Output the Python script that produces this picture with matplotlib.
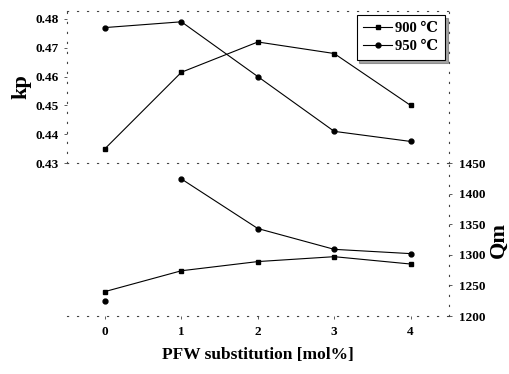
import numpy as np
import matplotlib.pyplot as plt

x = [0, 1, 2, 3, 4]
xticklabels = ["0", "1", "2", "3", "4"]

kp_900 = [0.435, 0.4615, 0.472, 0.468, 0.450]
kp_950 = [0.477, 0.479, 0.460, 0.441, 0.4375]
qm_900 = [1240, 1274, 1289, 1297, 1285]
qm_950 = [1225, 1424, 1343, 1309, 1302]

kp_ticks = [0.43, 0.44, 0.45, 0.46, 0.47, 0.48]
qm_ticks = [1200, 1250, 1300, 1350, 1400, 1450]

serif = ["Liberation Serif", "DejaVu Serif", "DejaVu Sans"]
plt.rcParams["font.family"] = serif
plt.rcParams["font.weight"] = "bold"

fig = plt.figure(figsize=(5.1, 3.74), dpi=100)
ax1 = fig.add_axes([0.131, 0.564, 0.749, 0.407])
ax2 = fig.add_axes([0.131, 0.155, 0.749, 0.409])
ax2.patch.set_alpha(0)

frame = (0, (1, 8))

# upper panel: kp
ax1.plot(x, kp_900, "-", color="black", lw=0.8, marker="s", ms=3.5)
ax1.plot(x, kp_950, "-", color="black", lw=0.8, marker="o", ms=3.5)
ax1.set_xlim(-0.5, 4.5)
ax1.set_ylim(0.43, 0.4828)
ax1.set_yticks(kp_ticks)
ax1.set_yticklabels([f"{v:.2f}" for v in kp_ticks], fontsize=9.5, fontweight="bold")
ax1.set_xticks([])
ax1.set_ylabel("kp", fontsize=16, fontweight="bold", labelpad=3)
for s in ax1.spines.values():
    s.set_linestyle(frame)
    s.set_linewidth(0.8)
    s.set_color("#444444")
ax1.tick_params(axis="y", length=2, width=0.6, pad=4, color="#444444")

leg = ax1.legend(["900 \u2103", "950 \u2103"], loc="upper right",
                 bbox_to_anchor=(0.997, 0.99), borderaxespad=0.2,
                 fancybox=False, shadow=True,
                 edgecolor="black", fontsize=10.5, handlelength=2.0,
                 borderpad=0.45, labelspacing=0.35, handletextpad=0.2)
leg.get_frame().set_linewidth(0.8)
for t in leg.get_texts():
    t.set_fontweight("bold")

# lower panel: Qm
ax2.plot(x, qm_900, "-", color="black", lw=0.8, marker="s", ms=3.5)
ax2.plot(x[1:], qm_950[1:], "-", color="black", lw=0.8, marker="o", ms=3.5)
ax2.plot(x[:1], qm_950[:1], "none", color="black", marker="o", ms=3.5)
ax2.set_xlim(-0.5, 4.5)
ax2.set_ylim(1200, 1450)
ax2.set_xticks(x)
ax2.set_xticklabels(xticklabels, fontsize=9.5, fontweight="bold")
ax2.yaxis.tick_right()
ax2.yaxis.set_label_position("right")
ax2.set_yticks(qm_ticks)
ax2.set_yticklabels([str(v) for v in qm_ticks], fontsize=9.5, fontweight="bold")
ax2.set_ylabel("Qm", fontsize=16, fontweight="bold", labelpad=3)
ax2.set_xlabel("PFW substitution [mol%]", fontsize=12.5, fontweight="bold", labelpad=7)
ax2.spines["top"].set_visible(False)
ax2.spines["left"].set_visible(False)
for k in ["bottom", "right"]:
    ax2.spines[k].set_linestyle(frame)
    ax2.spines[k].set_linewidth(0.8)
    ax2.spines[k].set_color("#444444")
ax2.tick_params(axis="both", length=2, width=0.6, pad=5, color="#444444")

fig.savefig("out.png", dpi=100)
